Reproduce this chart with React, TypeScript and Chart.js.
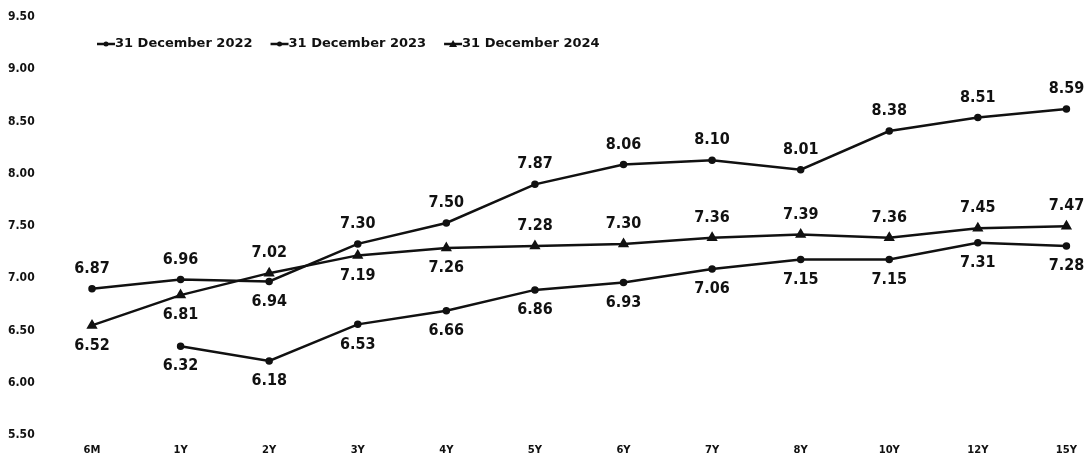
import React, { useEffect, useRef } from "react";
import { Chart, registerables } from "chart.js";

Chart.register(...registerables);

const tenors = ["6M", "1Y", "2Y", "3Y", "4Y", "5Y", "6Y", "7Y", "8Y", "10Y", "12Y", "15Y"];
const seriesNames = ["31 December 2022", "31 December 2023", "31 December 2024"];
const dec2022: (number | null)[] = [null, 6.32, 6.18, 6.53, 6.66, 6.86, 6.93, 7.06, 7.15, 7.15, 7.31, 7.28];
const dec2023 = [6.87, 6.96, 6.94, 7.3, 7.5, 7.87, 8.06, 8.1, 8.01, 8.38, 8.51, 8.59];
const dec2024 = [6.52, 6.81, 7.02, 7.19, 7.26, 7.28, 7.3, 7.36, 7.39, 7.36, 7.45, 7.47];
const yTicksMin = 5.5;
const yTicksMax = 9.5;
const yStep = 0.5;

export default function App() {
  const ref = useRef<HTMLCanvasElement | null>(null);

  useEffect(() => {
    if (!ref.current) return;
    // label placement: 1 = above, -1 = below
    const sides: number[][] = [
      dec2022.map(() => -1),
      dec2023.map((_, i) => (i === 2 ? -1 : 1)),
      dec2024.map((_, i) => (i === 0 || i === 1 || i === 3 || i === 4 ? -1 : 1)),
    ];

    const labelsPlugin = {
      id: "valueLabels",
      afterDatasetsDraw(chart: any) {
        const ctx = chart.ctx;
        ctx.save();
        ctx.font = 'bold 16px "DejaVu Sans Condensed", "DejaVu Sans", sans-serif';
        ctx.fillStyle = "#111";
        ctx.textAlign = "center";
        ctx.textBaseline = "middle";
        chart.data.datasets.forEach((ds: any, di: number) => {
          const meta = chart.getDatasetMeta(di);
          meta.data.forEach((pt: any, i: number) => {
            const v = ds.data[i];
            if (v === null || v === undefined) return;
            const off = sides[di][i] > 0 ? -20 : 20;
            ctx.fillText(Number(v).toFixed(2), pt.x, pt.y + off);
          });
        });
        ctx.restore();
      },
    };

    const legendPlugin = {
      id: "customLegend",
      afterDraw(chart: any) {
        const ctx = chart.ctx;
        ctx.save();
        ctx.font = 'bold 13px "DejaVu Sans", sans-serif';
        ctx.textBaseline = "middle";
        ctx.textAlign = "left";
        let x = 97;
        const y = 44;
        chart.data.datasets.forEach((ds: any) => {
          ctx.strokeStyle = "#111";
          ctx.fillStyle = "#111";
          ctx.lineWidth = 2.5;
          ctx.beginPath();
          ctx.moveTo(x, y);
          ctx.lineTo(x + 18, y);
          ctx.stroke();
          const cx = x + 9;
          if (ds.pointStyle === "triangle") {
            ctx.beginPath();
            ctx.moveTo(cx, y - 4);
            ctx.lineTo(cx + 4, y + 3);
            ctx.lineTo(cx - 4, y + 3);
            ctx.closePath();
            ctx.fill();
          } else {
            ctx.beginPath();
            ctx.arc(cx, y, 2.5, 0, Math.PI * 2);
            ctx.fill();
          }
          ctx.fillText(ds.label, x + 18, y);
          x += 18 + ctx.measureText(ds.label).width + 18;
        });
        ctx.restore();
      },
    };

    const mk = (label: string, data: (number | null)[], style: string) => ({
      label,
      data,
      borderColor: "#111",
      backgroundColor: "#111",
      borderWidth: 2.5,
      pointStyle: style,
      pointRadius: style === "triangle" ? 4 : 2.5,
      pointBackgroundColor: "#111",
      pointBorderColor: "#111",
      tension: 0,
    });

    const chart = new Chart(ref.current, {
      type: "line",
      data: {
        labels: tenors,
        datasets: [
          mk(seriesNames[0], dec2022, "circle"),
          mk(seriesNames[1], dec2023, "circle"),
          mk(seriesNames[2], dec2024, "triangle"),
        ],
      },
      options: {
        responsive: false,
        animation: false,
        layout: { padding: { left: 8, right: 18, top: 14, bottom: 0 } },
        plugins: {
          legend: { display: false },
          tooltip: { enabled: false },
        },
        scales: {
          x: {
            offset: false,
            grid: { display: false, drawTicks: false },
            border: { display: false },
            ticks: {
              color: "#111",
              padding: 12,
              maxRotation: 0,
              autoSkip: false,
              font: { family: '"DejaVu Sans", sans-serif', weight: "bold", size: 10 },
            },
            afterFit(scale: any) {
              scale.height = 22;
            },
          },
          y: {
            min: yTicksMin,
            max: yTicksMax,
            grid: { display: false, drawTicks: false },
            border: { display: false },
            ticks: {
              stepSize: yStep,
              color: "#111",
              crossAlign: "far",
              labelOffset: 3,
              font: { family: '"Liberation Sans Narrow", "DejaVu Sans Condensed", sans-serif', weight: "bold", size: 12 },
              callback: (v: any) => Number(v).toFixed(2),
            },
            afterFit(scale: any) {
              scale.width = 84;
            },
          },
        },
      },
      plugins: [labelsPlugin, legendPlugin],
    });
    return () => chart.destroy();
  }, []);

  return (
    <div style={{ position: "fixed", left: 0, top: 0, width: 1089, height: 454, background: "#fff" }}>
      <canvas ref={ref} width={1089} height={454} />
    </div>
  );
}
